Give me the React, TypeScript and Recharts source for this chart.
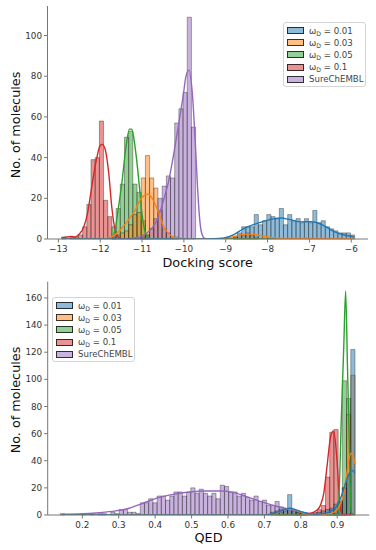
import React from 'react';
import { ComposedChart, XAxis, YAxis, Line, ReferenceArea } from 'recharts';

// ---------- shared ----------
const C01 = '#1f77b4';
const C03 = '#ff7f0e';
const C05 = '#2ca02c';
const C10 = '#d62728';
const CSURE = '#9467bd';
const LEGEND_VALUES = ['0.01', '0.03', '0.05', '0.1'];
const LEGEND_REF = 'SureChEMBL';

// ---------- Docking score panel ----------
const dockTicksX = [-13, -12, -11, -10, -9, -8, -7, -6];
const dockTicksY = [0, 20, 40, 60, 80, 100];
const dockBinStart = -12.92;
const dockBinWidth = 0.1;

const dockFirst01 = 40;
const dockCounts01 = [0, 1, 3, 6, 6, 6, 12, 7, 9, 12, 11, 10, 15, 7, 12, 9, 10, 8, 10, 8, 14, 8, 9, 6, 5, 4, 3, 3, 3, 2];
const dockFirst03 = 12;
const dockCounts03 = [1, 2, 3, 4, 7, 12, 13, 30, 41, 30, 25, 14, 5, 3, 1, 1, 0, 0, 0, 0, 0, 0, 0, 0, 0, 0, 0, 0, 0, 1, 2, 2, 3, 2, 1];
const dockFirst05 = 12;
const dockCounts05 = [6, 15, 27, 50, 53, 27, 23, 9, 2];
const dockFirst10 = 0;
const dockCounts10 = [1, 0, 1, 1, 2, 6, 17, 39, 40, 58, 19, 11, 1];
const dockFirstSure = 19;
const dockCountsSure = [1, 2, 5, 10, 20, 26, 31, 30, 57, 64, 72, 109, 55];

const dockKde01 = [[-12.92, 0], [-9.6, 0], [-9.3, 0.1], [-9.06, 0.4], [-8.82, 2], [-8.58, 5], [-8.25, 7.7], [-7.97, 9.4], [-7.7, 10.3], [-7.46, 9.5], [-7.22, 8.4], [-6.94, 8.5], [-6.66, 6.6], [-6.43, 3.9], [-6.19, 2.1], [-5.93, 1.0]];
const dockKde03 = [[-12.92, 0], [-12.0, 0], [-11.76, 0.8], [-11.52, 4.4], [-11.33, 9.3], [-11.17, 14], [-11.05, 19], [-10.87, 22], [-10.73, 19], [-10.6, 12.6], [-10.48, 6], [-10.33, 2], [-10.17, 0.5], [-9.9, 0.1], [-9.2, 0.1], [-8.9, 0.8], [-8.7, 1.8], [-8.45, 2.4], [-8.2, 1.8], [-7.95, 0.8], [-7.6, 0.3], [-6.5, 0.2], [-5.93, 0.1]];
const dockKde05 = [[-12.92, 0], [-11.8, 0], [-11.72, 0.8], [-11.65, 4], [-11.56, 16], [-11.48, 28], [-11.38, 46], [-11.3, 54], [-11.25, 54], [-11.2, 50], [-11.13, 39], [-11.06, 25], [-11.0, 12], [-10.94, 4.5], [-10.88, 1.2], [-10.8, 0.2], [-10.6, 0], [-5.93, 0]];
const dockKde10 = [[-12.92, 0.5], [-12.8, 1], [-12.7, 1.2], [-12.6, 1], [-12.5, 2.5], [-12.4, 5.5], [-12.3, 13], [-12.2, 26], [-12.1, 38], [-12.0, 46], [-11.95, 46.5], [-11.88, 44], [-11.8, 33], [-11.72, 15], [-11.65, 5], [-11.58, 1.2], [-11.5, 0.2], [-11.3, 0], [-5.93, 0]];
const dockKdeSure = [[-12.92, 0], [-11.4, 0], [-11.2, 0.5], [-11.0, 1.5], [-10.8, 4.5], [-10.65, 9], [-10.5, 18], [-10.37, 28], [-10.25, 41], [-10.13, 56], [-10.02, 70], [-9.95, 80], [-9.88, 83], [-9.8, 72], [-9.73, 48], [-9.67, 24], [-9.62, 9], [-9.57, 2.5], [-9.5, 0.3], [-9.4, 0], [-5.93, 0]];

// ---------- QED panel ----------
const qedTicksX = [0.2, 0.3, 0.4, 0.5, 0.6, 0.7, 0.8, 0.9];
const qedTicksY = [0, 20, 40, 60, 80, 100, 120, 140, 160];
const qedBinStart = 0.1395;
const qedBinWidth = 0.01156;

const qedFirstSure = 0;
const qedCountsSure = [1, 0, 0, 0, 0, 1, 0, 1, 0, 1, 1, 0, 2, 1, 4, 4, 2, 2, 1, 9, 9, 12, 9, 14, 14, 11, 14, 17, 17, 14, 17, 20, 16, 19, 16, 14, 16, 12, 22, 21, 17, 17, 14, 16, 13, 11, 14, 10, 11, 7, 7, 10, 6, 4, 5, 4, 3, 2, 1, 1];
const qedFirst01 = 50;
const qedCounts01 = [2, 3, 4, 5, 15, 4, 2, 1, 1, 0, 1, 2, 3, 4, 5, 8, 10, 20, 30, 122];
const qedFirst03 = 52;
const qedCounts03 = [2, 3, 4, 3, 2, 1, 0, 0, 0, 0, 0, 1, 2, 4, 8, 20, 74, 103];
const qedFirst05 = 65;
const qedCounts05 = [1, 10, 99, 86];
const qedFirst10 = 56;
const qedCounts10 = [1, 0, 1, 1, 2, 4, 7, 28, 61, 63, 4, 1];

const qedKde01 = [[0.145, 0], [0.7, 0], [0.73, 1.5], [0.755, 4], [0.77, 5], [0.785, 4], [0.8, 2.5], [0.82, 1], [0.84, 0.5], [0.86, 1], [0.88, 2.5], [0.9, 7], [0.91, 13], [0.92, 21], [0.93, 29], [0.94, 33], [0.948, 31]];
const qedKde03 = [[0.145, 0], [0.7, 0], [0.735, 1.5], [0.755, 3.8], [0.77, 4.5], [0.785, 3.8], [0.8, 2], [0.82, 0.6], [0.86, 0.5], [0.88, 1], [0.9, 4], [0.91, 9], [0.918, 16], [0.925, 28], [0.932, 41], [0.938, 45.5], [0.943, 44], [0.948, 38]];
const qedKde05 = [[0.145, 0], [0.895, 0], [0.902, 1], [0.912, 78], [0.918, 125], [0.923, 165], [0.928, 110], [0.933, 55], [0.938, 2], [0.948, 0]];
const qedKde10 = [[0.145, 0], [0.8, 0], [0.82, 0.8], [0.845, 3.7], [0.855, 8], [0.863, 16], [0.872, 36], [0.882, 58], [0.89, 62], [0.898, 45], [0.905, 16], [0.909, 4], [0.915, 0.5], [0.948, 0]];
const qedKdeSure = [[0.145, 0.5], [0.2, 1], [0.246, 1.7], [0.292, 3], [0.329, 5], [0.366, 8.6], [0.403, 12.3], [0.449, 15.2], [0.495, 17], [0.541, 17.7], [0.582, 17.7], [0.614, 16.7], [0.651, 13.5], [0.697, 9.3], [0.743, 5.7], [0.78, 3.4], [0.817, 1.5], [0.845, 0.5], [0.87, 0], [0.948, 0]];

// ---------- helpers ----------
const FONT = 'DejaVu Sans, Verdana, sans-serif';
const AXIS = '#777';

function hexA(hex: string, a: number) {
  const n = parseInt(hex.slice(1), 16);
  return `rgba(${(n >> 16) & 255},${(n >> 8) & 255},${n & 255},${a})`;
}

function histBars(prefix: string, start: number, width: number, first: number, counts: number[], color: string) {
  return counts.map((c, i) =>
    c > 0 ? (
      <ReferenceArea
        key={prefix + i}
        x1={start + (first + i) * width}
        x2={start + (first + i + 1) * width}
        y1={0}
        y2={c}
        fill={color}
        fillOpacity={0.5}
        stroke="#000"
        strokeOpacity={0.55}
        strokeWidth={0.6}
        ifOverflow="visible"
      />
    ) : null
  );
}

function kdeLine(key: string, pts: number[][], color: string) {
  return (
    <Line
      key={key}
      data={pts.map(([x, y]) => ({ x, y }))}
      dataKey="y"
      type="monotone"
      stroke={color}
      strokeWidth={1.4}
      dot={false}
      activeDot={false}
      isAnimationActive={false}
    />
  );
}

const minusFmt = (v: number) => (v < 0 ? '\u2212' + Math.abs(v) : String(v));

const tickStyle = { fontFamily: FONT, fontSize: 8.8, fill: '#333' };

function YLabel({ cy }: { cy: number }) {
  return (
    <text
      x={15}
      y={cy}
      transform={`rotate(-90, 15, ${cy})`}
      textAnchor="middle"
      dominantBaseline="central"
      fontFamily={FONT}
      fontSize={12.8}
      fill="#111"
    >
      No. of molecules
    </text>
  );
}

function XLabel({ cx, y, text }: { cx: number; y: number; text: string }) {
  return (
    <text x={cx} y={y} textAnchor="middle" fontFamily={FONT} fontSize={12.8} fill="#111">
      {text}
    </text>
  );
}

function LegendBox({ left, top }: { left: number; top: number }) {
  const colors = [C01, C03, C05, C10];
  const rows = LEGEND_VALUES.map((v, i) => ({
    color: colors[i],
    label: (
      <span>
        ω<span style={{ fontSize: 6.2, position: 'relative', top: 2 }}>D</span> = {v}
      </span>
    ),
  }));
  rows.push({ color: CSURE, label: <span>{LEGEND_REF}</span> });
  return (
    <div
      style={{
        position: 'absolute',
        left,
        top,
        width: 81,
        height: 63,
        border: '1px solid #d4d4d4',
        borderRadius: 3,
        background: 'rgba(255,255,255,0.85)',
        fontFamily: FONT,
        fontSize: 8.6,
        color: '#444',
        boxSizing: 'content-box',
      }}
    >
      {rows.map((r, i) => (
        <div
          key={i}
          style={{ position: 'absolute', left: 3, top: 1.5 + i * 12.2, height: 12, display: 'flex', alignItems: 'center', whiteSpace: 'nowrap' }}
        >
          <div
            style={{
              width: 15,
              height: 5,
              background: hexA(r.color, 0.5),
              border: '1px solid rgba(0,0,0,0.75)',
              marginRight: 5,
            }}
          />
          {r.label}
        </div>
      ))}
    </div>
  );
}

function DockChart() {
  const domX: [number, number] = [-13.26, -5.6];
  const domY: [number, number] = [0, 114.5];
  return (
    <ComposedChart width={376} height={275} margin={{ top: 6, right: 8, bottom: 0, left: 0 }}>
      <XAxis
        dataKey="x"
        type="number"
        domain={domX}
        ticks={dockTicksX}
        allowDataOverflow
        tickFormatter={minusFmt}
        height={36}
        tick={tickStyle}
        tickSize={3.5}
        tickMargin={3}
        tickLine={{ stroke: AXIS }}
        axisLine={{ stroke: AXIS, strokeWidth: 1 }}
        label={() => <XLabel cx={207.7} y={267} text="Docking score" />}
      />
      <XAxis xAxisId="top" orientation="top" type="number" domain={domX} height={0} tick={false} tickLine={false} axisLine={{ stroke: AXIS }} />
      <YAxis
        type="number"
        domain={domY}
        ticks={dockTicksY}
        allowDataOverflow
        width={47.5}
        tick={tickStyle}
        tickSize={3.5}
        tickLine={{ stroke: AXIS }}
        axisLine={{ stroke: AXIS, strokeWidth: 1 }}
        label={() => <YLabel cy={125} />}
      />
      <YAxis yAxisId="right" orientation="right" type="number" domain={domY} width={0} tick={false} tickLine={false} axisLine={{ stroke: AXIS }} />
      {histBars('d10-', dockBinStart, dockBinWidth, dockFirst10, dockCounts10, C10)}
      {histBars('d05-', dockBinStart, dockBinWidth, dockFirst05, dockCounts05, C05)}
      {histBars('d03-', dockBinStart, dockBinWidth, dockFirst03, dockCounts03, C03)}
      {histBars('dS-', dockBinStart, dockBinWidth, dockFirstSure, dockCountsSure, CSURE)}
      {histBars('d01-', dockBinStart, dockBinWidth, dockFirst01, dockCounts01, C01)}
      {kdeLine('kS', dockKdeSure, CSURE)}
      {kdeLine('k10', dockKde10, C10)}
      {kdeLine('k05', dockKde05, C05)}
      {kdeLine('k03', dockKde03, C03)}
      {kdeLine('k01', dockKde01, C01)}
    </ComposedChart>
  );
}

function QedChart() {
  const domX: [number, number] = [0.105, 0.988];
  const domY: [number, number] = [0, 172];
  return (
    <ComposedChart width={376} height={275} margin={{ top: 6.7, right: 6.7, bottom: 0, left: 0 }}>
      <XAxis
        dataKey="x"
        type="number"
        domain={domX}
        ticks={qedTicksX}
        allowDataOverflow
        tickFormatter={(v: number) => v.toFixed(1)}
        height={35}
        tick={tickStyle}
        tickSize={3.5}
        tickMargin={3}
        tickLine={{ stroke: AXIS }}
        axisLine={{ stroke: AXIS, strokeWidth: 1 }}
        label={() => <XLabel cx={208.5} y={267} text="QED" />}
      />
      <XAxis xAxisId="top" orientation="top" type="number" domain={domX} height={0} tick={false} tickLine={false} axisLine={{ stroke: AXIS }} />
      <YAxis
        type="number"
        domain={domY}
        ticks={qedTicksY}
        allowDataOverflow
        width={47.7}
        tick={tickStyle}
        tickSize={3.5}
        tickLine={{ stroke: AXIS }}
        axisLine={{ stroke: AXIS, strokeWidth: 1 }}
        label={() => <YLabel cy={125} />}
      />
      <YAxis yAxisId="right" orientation="right" type="number" domain={domY} width={0} tick={false} tickLine={false} axisLine={{ stroke: AXIS }} />
      {histBars('qS-', qedBinStart, qedBinWidth, qedFirstSure, qedCountsSure, CSURE)}
      {histBars('q10-', qedBinStart, qedBinWidth, qedFirst10, qedCounts10, C10)}
      {histBars('q05-', qedBinStart, qedBinWidth, qedFirst05, qedCounts05, C05)}
      {histBars('q03-', qedBinStart, qedBinWidth, qedFirst03, qedCounts03, C03)}
      {histBars('q01-', qedBinStart, qedBinWidth, qedFirst01, qedCounts01, C01)}
      {kdeLine('kS', qedKdeSure, CSURE)}
      {kdeLine('k10', qedKde10, C10)}
      {kdeLine('k05', qedKde05, C05)}
      {kdeLine('k03', qedKde03, C03)}
      {kdeLine('k01', qedKde01, C01)}
    </ComposedChart>
  );
}

export default function App() {
  return (
    <div style={{ position: 'absolute', left: 0, top: 0, width: 376, height: 550, background: '#fff', overflow: 'hidden' }}>
      <div style={{ position: 'absolute', left: 0, top: 0 }}>
        <DockChart />
      </div>
      <div style={{ position: 'absolute', left: 0, top: 275 }}>
        <QedChart />
      </div>
      <LegendBox left={283} top={22} />
      <LegendBox left={52} top={297} />
    </div>
  );
}
